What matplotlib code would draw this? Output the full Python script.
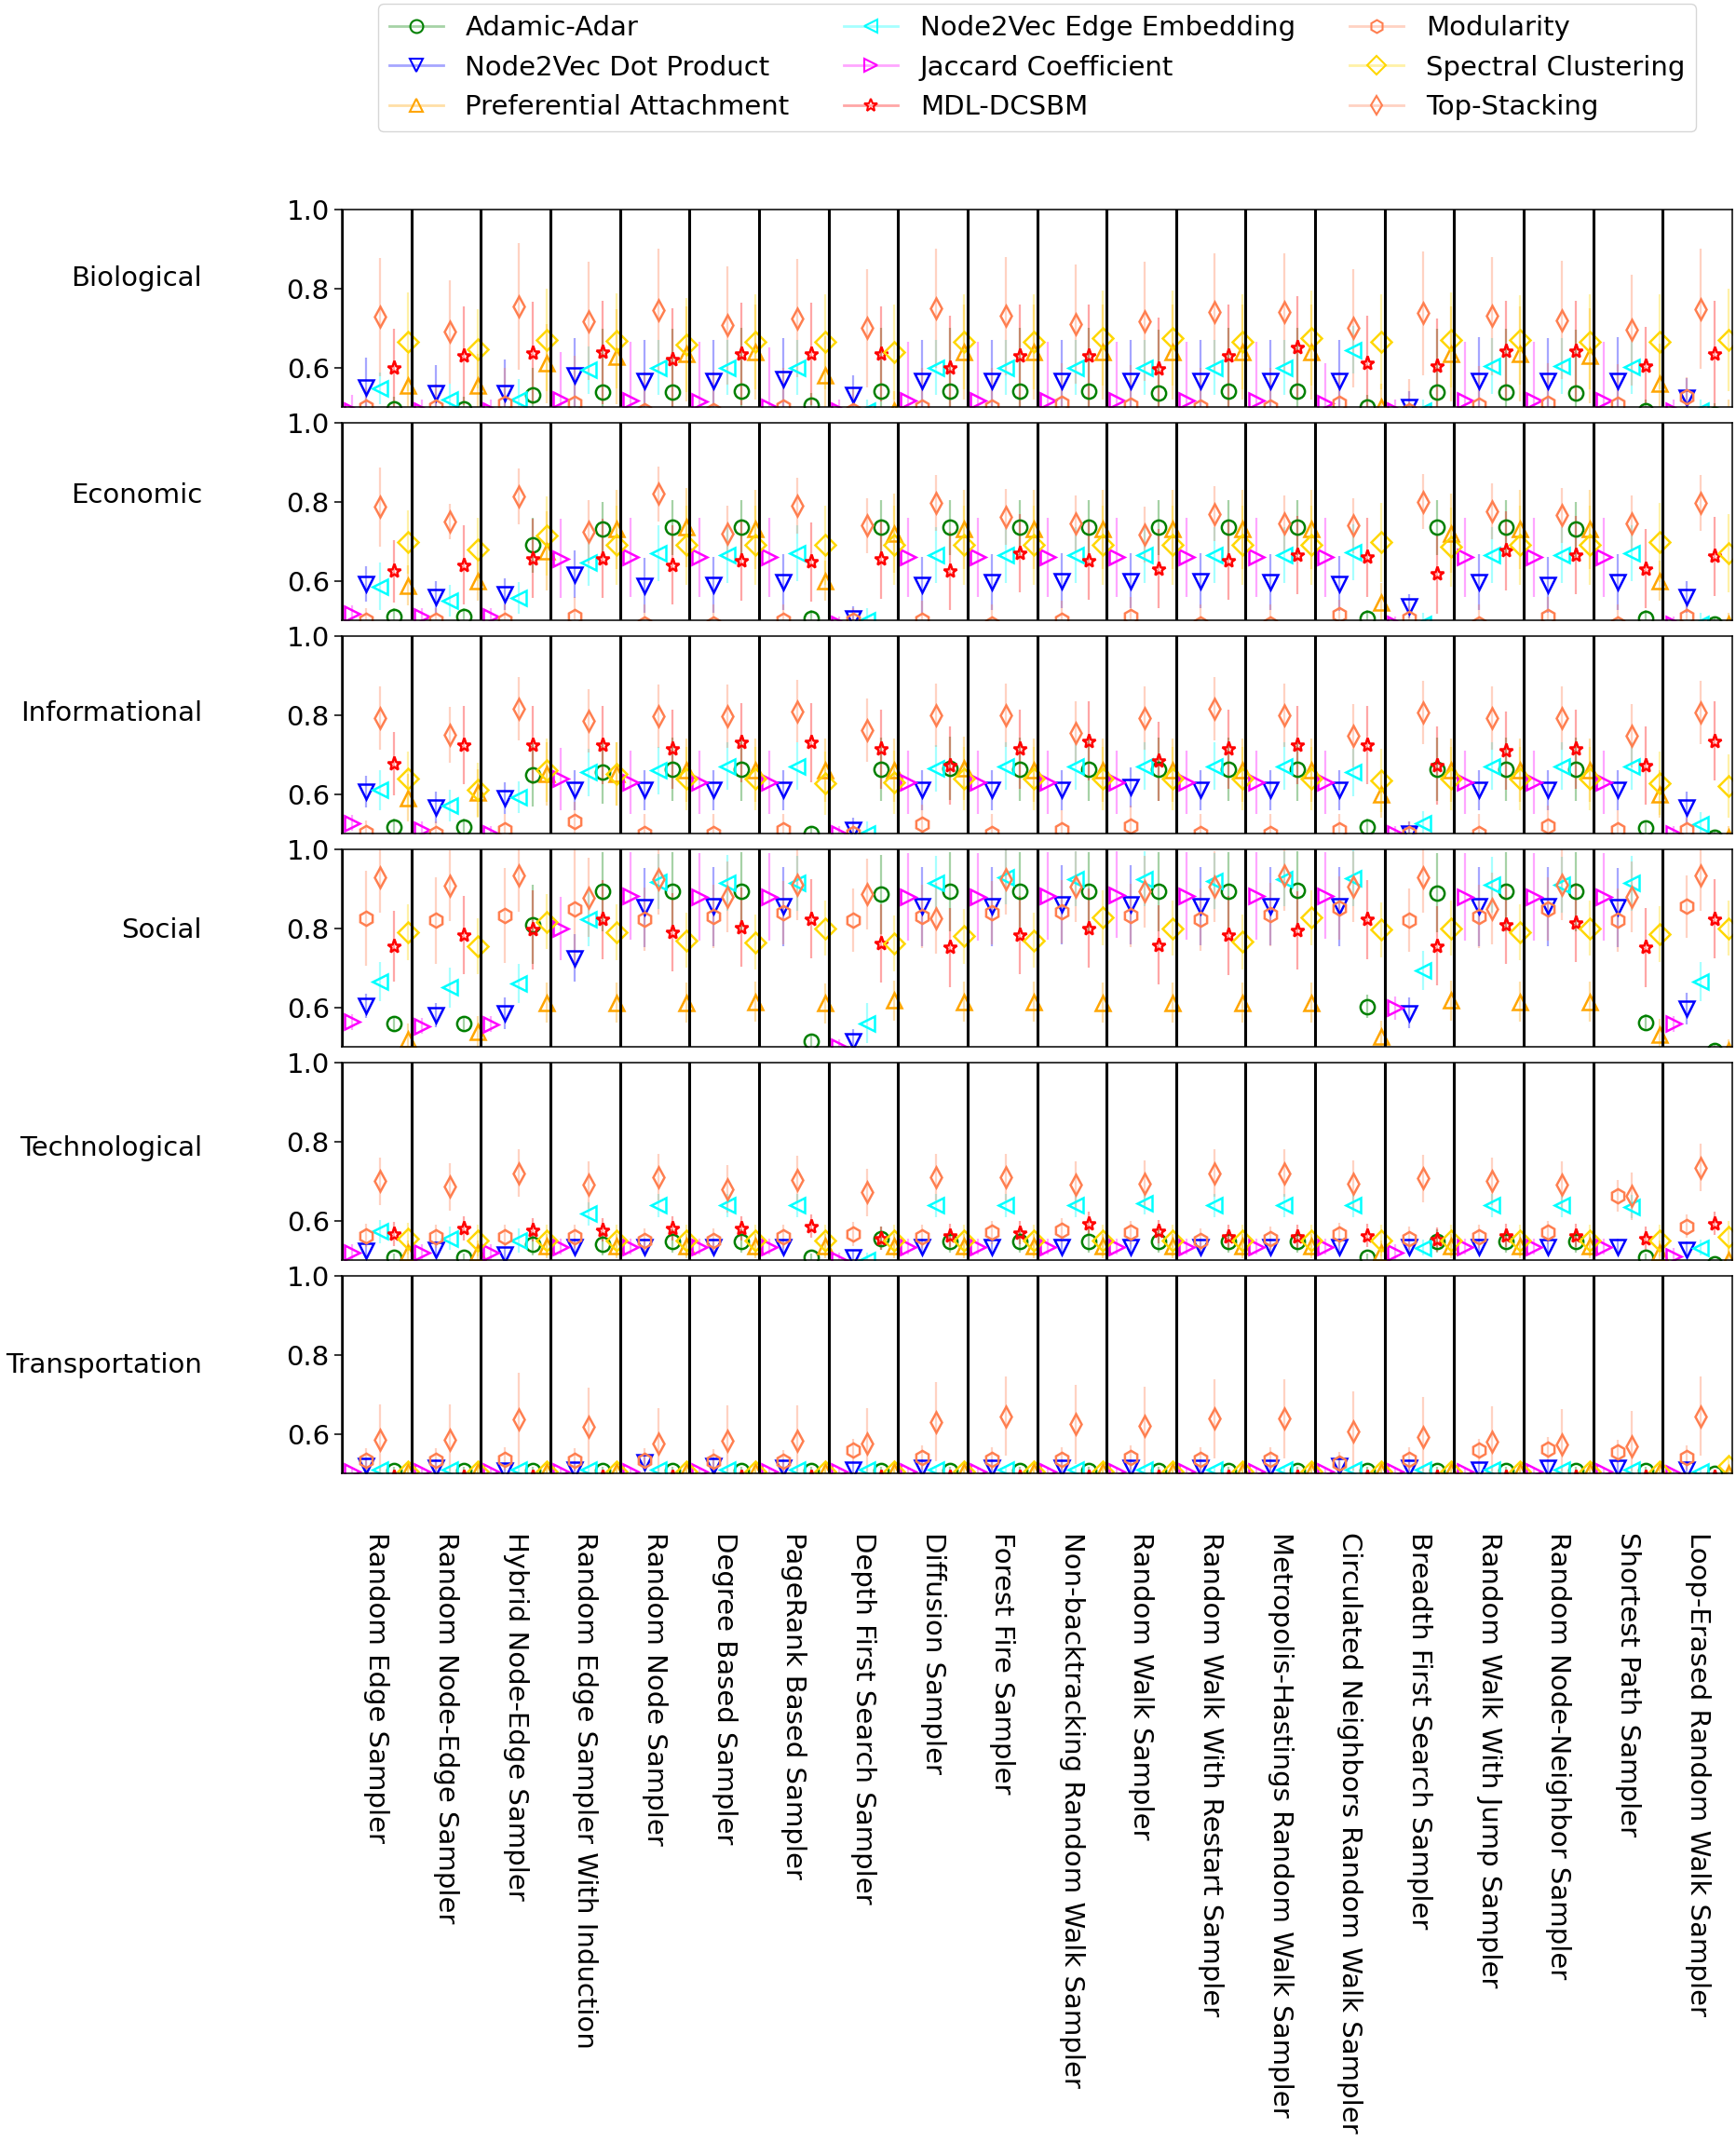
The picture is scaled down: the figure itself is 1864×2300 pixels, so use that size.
import numpy as np
import matplotlib.pyplot as plt
from matplotlib.lines import Line2D
from matplotlib.colors import to_rgba

samplers = ['Random Edge Sampler', 'Random Node-Edge Sampler', 'Hybrid Node-Edge Sampler',
            'Random Edge Sampler With Induction', 'Random Node Sampler', 'Degree Based Sampler',
            'PageRank Based Sampler', 'Depth First Search Sampler', 'Diffusion Sampler',
            'Forest Fire Sampler', 'Non-backtracking Random Walk Sampler', 'Random Walk Sampler',
            'Random Walk With Restart Sampler', 'Metropolis-Hastings Random Walk Sampler',
            'Circulated Neighbors Random Walk Sampler', 'Breadth First Search Sampler',
            'Random Walk With Jump Sampler', 'Random Node-Neighbor Sampler',
            'Shortest Path Sampler', 'Loop-Erased Random Walk Sampler']

domains = ['Biological', 'Economic', 'Informational', 'Social', 'Technological', 'Transportation']

methods = ['Adamic-Adar', 'Node2Vec Dot Product', 'Preferential Attachment',
           'Node2Vec Edge Embedding', 'Jaccard Coefficient', 'MDL-DCSBM',
           'Modularity', 'Spectral Clustering', 'Top-Stacking']
markers = ['o', 'v', '^', '<', '>', '*', 'h', 'D', 'd']
colors = ['green', 'blue', 'orange', 'cyan', 'magenta', 'red', 'coral', 'gold', 'coral']
offsets = [0.75, 0.35, 0.95, 0.55, 0.15, 0.75, 0.35, 0.95, 0.55]

# ---- mean AUC per sampler (20 values) ----
bio_mean = {
    'Adamic-Adar':             [0.495, 0.495, 0.53, 0.537, 0.538, 0.54, 0.505, 0.54, 0.54, 0.54, 0.54, 0.535, 0.54, 0.54, 0.50, 0.538, 0.538, 0.535, 0.49, 0.48],
    'Node2Vec Dot Product':    [0.55, 0.535, 0.535, 0.58, 0.565, 0.565, 0.57, 0.53, 0.565, 0.565, 0.565, 0.565, 0.565, 0.565, 0.565, 0.50, 0.567, 0.565, 0.567, 0.524],
    'Preferential Attachment': [0.555, 0.555, 0.61, 0.628, 0.634, 0.64, 0.58, 0.49, 0.64, 0.64, 0.64, 0.64, 0.64, 0.64, 0.50, 0.634, 0.634, 0.63, 0.56, 0.47],
    'Node2Vec Edge Embedding': [0.547, 0.52, 0.52, 0.594, 0.60, 0.60, 0.60, 0.49, 0.60, 0.60, 0.60, 0.60, 0.60, 0.60, 0.645, 0.49, 0.604, 0.604, 0.602, 0.49],
    'Jaccard Coefficient':     [0.49, 0.49, 0.49, 0.52, 0.516, 0.515, 0.50, 0.49, 0.516, 0.516, 0.516, 0.516, 0.516, 0.516, 0.51, 0.49, 0.516, 0.516, 0.516, 0.49],
    'MDL-DCSBM':               [0.598, 0.63, 0.636, 0.638, 0.62, 0.635, 0.635, 0.635, 0.60, 0.63, 0.63, 0.597, 0.63, 0.65, 0.61, 0.604, 0.642, 0.642, 0.604, 0.635],
    'Modularity':              [0.50, 0.50, 0.51, 0.51, 0.49, 0.49, 0.50, 0.49, 0.50, 0.50, 0.51, 0.505, 0.50, 0.50, 0.51, 0.49, 0.504, 0.51, 0.508, 0.525],
    'Spectral Clustering':     [0.665, 0.647, 0.67, 0.667, 0.657, 0.665, 0.665, 0.64, 0.665, 0.665, 0.675, 0.675, 0.665, 0.675, 0.665, 0.67, 0.67, 0.665, 0.665, 0.67],
    'Top-Stacking':            [0.728, 0.69, 0.754, 0.718, 0.746, 0.707, 0.725, 0.70, 0.75, 0.73, 0.71, 0.717, 0.74, 0.74, 0.70, 0.738, 0.73, 0.72, 0.695, 0.748],
}
econ_mean = {
    'Adamic-Adar':             [0.51, 0.51, 0.69, 0.73, 0.735, 0.735, 0.505, 0.735, 0.735, 0.735, 0.735, 0.735, 0.735, 0.735, 0.505, 0.735, 0.735, 0.73, 0.505, 0.49],
    'Node2Vec Dot Product':    [0.592, 0.56, 0.565, 0.616, 0.588, 0.59, 0.597, 0.505, 0.59, 0.597, 0.60, 0.60, 0.60, 0.597, 0.593, 0.535, 0.597, 0.59, 0.597, 0.56],
    'Preferential Attachment': [0.588, 0.60, 0.675, 0.73, 0.735, 0.73, 0.60, 0.72, 0.73, 0.73, 0.73, 0.73, 0.73, 0.73, 0.545, 0.72, 0.73, 0.73, 0.60, 0.49],
    'Node2Vec Edge Embedding': [0.586, 0.55, 0.557, 0.647, 0.67, 0.665, 0.67, 0.50, 0.665, 0.665, 0.665, 0.665, 0.665, 0.665, 0.672, 0.49, 0.665, 0.665, 0.67, 0.49],
    'Jaccard Coefficient':     [0.517, 0.51, 0.51, 0.656, 0.66, 0.66, 0.66, 0.49, 0.66, 0.66, 0.66, 0.66, 0.66, 0.66, 0.66, 0.49, 0.66, 0.66, 0.66, 0.49],
    'MDL-DCSBM':               [0.624, 0.64, 0.656, 0.656, 0.64, 0.65, 0.648, 0.655, 0.625, 0.67, 0.652, 0.63, 0.652, 0.665, 0.66, 0.617, 0.676, 0.665, 0.63, 0.662],
    'Modularity':              [0.50, 0.50, 0.50, 0.51, 0.49, 0.49, 0.50, 0.50, 0.50, 0.49, 0.50, 0.51, 0.49, 0.49, 0.513, 0.505, 0.49, 0.51, 0.49, 0.51],
    'Spectral Clustering':     [0.698, 0.68, 0.714, 0.69, 0.69, 0.69, 0.69, 0.69, 0.69, 0.69, 0.69, 0.69, 0.69, 0.69, 0.697, 0.686, 0.69, 0.69, 0.697, 0.67],
    'Top-Stacking':            [0.787, 0.75, 0.814, 0.725, 0.82, 0.72, 0.79, 0.74, 0.797, 0.762, 0.745, 0.717, 0.77, 0.745, 0.74, 0.80, 0.776, 0.766, 0.745, 0.797],
}
info_mean = {
    'Adamic-Adar':             [0.517, 0.517, 0.648, 0.655, 0.662, 0.662, 0.50, 0.662, 0.666, 0.662, 0.662, 0.662, 0.662, 0.662, 0.517, 0.662, 0.662, 0.662, 0.514, 0.49],
    'Node2Vec Dot Product':    [0.607, 0.566, 0.59, 0.61, 0.61, 0.61, 0.61, 0.51, 0.61, 0.61, 0.61, 0.617, 0.61, 0.61, 0.61, 0.50, 0.61, 0.61, 0.61, 0.566],
    'Preferential Attachment': [0.59, 0.603, 0.65, 0.65, 0.66, 0.66, 0.66, 0.66, 0.665, 0.66, 0.66, 0.66, 0.66, 0.66, 0.60, 0.66, 0.66, 0.66, 0.60, 0.49],
    'Node2Vec Edge Embedding': [0.61, 0.57, 0.593, 0.655, 0.66, 0.67, 0.67, 0.50, 0.665, 0.67, 0.67, 0.67, 0.67, 0.67, 0.655, 0.527, 0.67, 0.67, 0.67, 0.524],
    'Jaccard Coefficient':     [0.527, 0.51, 0.50, 0.638, 0.63, 0.63, 0.63, 0.50, 0.63, 0.63, 0.63, 0.63, 0.63, 0.63, 0.63, 0.50, 0.63, 0.63, 0.63, 0.50],
    'MDL-DCSBM':               [0.676, 0.724, 0.724, 0.724, 0.714, 0.73, 0.73, 0.714, 0.672, 0.714, 0.734, 0.683, 0.714, 0.724, 0.724, 0.672, 0.71, 0.714, 0.672, 0.734],
    'Modularity':              [0.503, 0.50, 0.51, 0.531, 0.50, 0.50, 0.51, 0.50, 0.524, 0.50, 0.51, 0.52, 0.50, 0.50, 0.51, 0.50, 0.50, 0.52, 0.51, 0.51],
    'Spectral Clustering':     [0.638, 0.61, 0.66, 0.65, 0.64, 0.64, 0.628, 0.63, 0.64, 0.64, 0.64, 0.64, 0.64, 0.64, 0.634, 0.64, 0.64, 0.64, 0.628, 0.62],
    'Top-Stacking':            [0.793, 0.75, 0.817, 0.786, 0.797, 0.797, 0.81, 0.762, 0.80, 0.80, 0.755, 0.793, 0.817, 0.80, 0.748, 0.807, 0.793, 0.793, 0.748, 0.807],
}
social_mean = {
    'Adamic-Adar':             [0.558, 0.559, 0.81, 0.893, 0.893, 0.893, 0.514, 0.886, 0.893, 0.893, 0.893, 0.893, 0.893, 0.896, 0.602, 0.89, 0.893, 0.893, 0.562, 0.49],
    'Node2Vec Dot Product':    [0.604, 0.58, 0.584, 0.725, 0.853, 0.855, 0.855, 0.514, 0.855, 0.855, 0.86, 0.86, 0.856, 0.856, 0.855, 0.586, 0.855, 0.855, 0.853, 0.597],
    'Preferential Attachment': [0.52, 0.537, 0.612, 0.612, 0.612, 0.614, 0.61, 0.617, 0.614, 0.614, 0.612, 0.612, 0.612, 0.612, 0.525, 0.617, 0.614, 0.614, 0.53, 0.49],
    'Node2Vec Edge Embedding': [0.665, 0.65, 0.66, 0.824, 0.918, 0.915, 0.914, 0.56, 0.914, 0.93, 0.925, 0.925, 0.92, 0.925, 0.927, 0.693, 0.91, 0.91, 0.914, 0.665],
    'Jaccard Coefficient':     [0.563, 0.553, 0.557, 0.80, 0.882, 0.88, 0.88, 0.50, 0.88, 0.88, 0.882, 0.885, 0.882, 0.882, 0.883, 0.598, 0.88, 0.88, 0.88, 0.558],
    'MDL-DCSBM':               [0.755, 0.783, 0.796, 0.822, 0.79, 0.803, 0.824, 0.762, 0.752, 0.783, 0.80, 0.758, 0.782, 0.795, 0.822, 0.755, 0.81, 0.814, 0.752, 0.824],
    'Modularity':              [0.825, 0.82, 0.833, 0.849, 0.824, 0.83, 0.84, 0.82, 0.83, 0.84, 0.842, 0.833, 0.822, 0.834, 0.851, 0.82, 0.83, 0.85, 0.82, 0.855],
    'Spectral Clustering':     [0.79, 0.755, 0.817, 0.79, 0.77, 0.765, 0.80, 0.762, 0.78, 0.77, 0.827, 0.80, 0.766, 0.827, 0.796, 0.80, 0.79, 0.80, 0.785, 0.80],
    'Top-Stacking':            [0.93, 0.908, 0.933, 0.878, 0.925, 0.88, 0.91, 0.886, 0.825, 0.924, 0.906, 0.893, 0.906, 0.935, 0.906, 0.93, 0.85, 0.91, 0.88, 0.934],
}
tech_mean = {
    'Adamic-Adar':             [0.507, 0.507, 0.541, 0.541, 0.548, 0.548, 0.507, 0.555, 0.548, 0.548, 0.548, 0.548, 0.548, 0.548, 0.507, 0.548, 0.548, 0.548, 0.507, 0.49],
    'Node2Vec Dot Product':    [0.524, 0.527, 0.514, 0.534, 0.534, 0.534, 0.534, 0.507, 0.534, 0.534, 0.534, 0.534, 0.534, 0.534, 0.534, 0.534, 0.534, 0.534, 0.534, 0.527],
    'Preferential Attachment': [0.52, 0.52, 0.535, 0.535, 0.535, 0.535, 0.535, 0.535, 0.535, 0.535, 0.535, 0.535, 0.535, 0.535, 0.52, 0.535, 0.535, 0.535, 0.52, 0.50],
    'Node2Vec Edge Embedding': [0.572, 0.555, 0.55, 0.617, 0.638, 0.638, 0.638, 0.50, 0.638, 0.638, 0.638, 0.645, 0.638, 0.638, 0.638, 0.531, 0.638, 0.638, 0.635, 0.531],
    'Jaccard Coefficient':     [0.52, 0.52, 0.52, 0.534, 0.534, 0.534, 0.534, 0.50, 0.534, 0.534, 0.534, 0.534, 0.534, 0.534, 0.534, 0.52, 0.534, 0.534, 0.534, 0.51],
    'MDL-DCSBM':               [0.566, 0.58, 0.576, 0.576, 0.58, 0.58, 0.586, 0.555, 0.562, 0.569, 0.593, 0.572, 0.559, 0.559, 0.562, 0.552, 0.562, 0.562, 0.555, 0.593],
    'Modularity':              [0.562, 0.56, 0.559, 0.56, 0.55, 0.55, 0.56, 0.566, 0.56, 0.57, 0.575, 0.57, 0.55, 0.555, 0.565, 0.555, 0.56, 0.57, 0.662, 0.586],
    'Spectral Clustering':     [0.555, 0.55, 0.55, 0.55, 0.55, 0.55, 0.55, 0.55, 0.55, 0.55, 0.55, 0.55, 0.55, 0.55, 0.55, 0.55, 0.55, 0.55, 0.55, 0.56],
    'Top-Stacking':            [0.70, 0.686, 0.72, 0.69, 0.71, 0.68, 0.704, 0.672, 0.71, 0.71, 0.69, 0.693, 0.72, 0.72, 0.693, 0.707, 0.70, 0.69, 0.662, 0.734],
}
trans_mean = {
    'Adamic-Adar':             [0.507, 0.507, 0.507, 0.507, 0.507, 0.507, 0.507, 0.507, 0.507, 0.507, 0.507, 0.507, 0.507, 0.507, 0.507, 0.507, 0.507, 0.507, 0.507, 0.50],
    'Node2Vec Dot Product':    [0.518, 0.515, 0.507, 0.51, 0.528, 0.52, 0.515, 0.51, 0.515, 0.515, 0.515, 0.515, 0.515, 0.515, 0.52, 0.515, 0.51, 0.515, 0.515, 0.51],
    'Preferential Attachment': [0.505, 0.505, 0.505, 0.505, 0.505, 0.505, 0.505, 0.505, 0.505, 0.505, 0.505, 0.505, 0.505, 0.505, 0.505, 0.505, 0.505, 0.505, 0.505, 0.50],
    'Node2Vec Edge Embedding': [0.51, 0.51, 0.51, 0.51, 0.51, 0.51, 0.51, 0.51, 0.51, 0.51, 0.51, 0.51, 0.51, 0.51, 0.51, 0.51, 0.51, 0.51, 0.51, 0.505],
    'Jaccard Coefficient':     [0.505, 0.505, 0.505, 0.505, 0.505, 0.505, 0.505, 0.505, 0.505, 0.505, 0.505, 0.505, 0.505, 0.505, 0.505, 0.505, 0.505, 0.505, 0.505, 0.50],
    'MDL-DCSBM':               [0.49, 0.49, 0.49, 0.49, 0.49, 0.49, 0.49, 0.49, 0.49, 0.49, 0.49, 0.49, 0.49, 0.49, 0.49, 0.49, 0.49, 0.49, 0.49, 0.49],
    'Modularity':              [0.534, 0.534, 0.536, 0.534, 0.534, 0.531, 0.53, 0.558, 0.54, 0.536, 0.535, 0.54, 0.535, 0.535, 0.525, 0.535, 0.558, 0.562, 0.555, 0.54],
    'Spectral Clustering':     [0.505, 0.505, 0.505, 0.505, 0.505, 0.505, 0.505, 0.505, 0.505, 0.505, 0.505, 0.505, 0.505, 0.505, 0.505, 0.505, 0.505, 0.505, 0.505, 0.52],
    'Top-Stacking':            [0.584, 0.584, 0.637, 0.617, 0.576, 0.582, 0.583, 0.576, 0.63, 0.645, 0.624, 0.62, 0.638, 0.638, 0.607, 0.593, 0.58, 0.572, 0.569, 0.645],
}

# ---- standard deviation (error bar half length) ----
bio_err = {
    'Adamic-Adar':             [0.03, 0.03, 0.07, 0.16, 0.16, 0.16, 0.03, 0.16, 0.16, 0.16, 0.16, 0.16, 0.16, 0.16, 0.03, 0.16, 0.16, 0.16, 0.03, 0.03],
    'Node2Vec Dot Product':    [0.075, 0.07, 0.085, 0.095, 0.105, 0.105, 0.105, 0.05, 0.105, 0.105, 0.105, 0.105, 0.105, 0.105, 0.105, 0.04, 0.11, 0.11, 0.11, 0.05],
    'Preferential Attachment': [0.08, 0.08, 0.1, 0.12, 0.12, 0.12, 0.1, 0.05, 0.12, 0.12, 0.12, 0.12, 0.12, 0.12, 0.06, 0.12, 0.12, 0.12, 0.1, 0.05],
    'Node2Vec Edge Embedding': [0.04, 0.04, 0.05, 0.06, 0.07, 0.07, 0.07, 0.03, 0.07, 0.07, 0.07, 0.07, 0.07, 0.07, 0.06, 0.03, 0.07, 0.07, 0.07, 0.03],
    'Jaccard Coefficient':     [0.04, 0.03, 0.03, 0.12, 0.15, 0.15, 0.15, 0.03, 0.15, 0.15, 0.15, 0.15, 0.15, 0.15, 0.10, 0.03, 0.15, 0.15, 0.15, 0.03],
    'MDL-DCSBM':               [0.10, 0.125, 0.13, 0.13, 0.13, 0.13, 0.13, 0.12, 0.13, 0.13, 0.13, 0.13, 0.13, 0.13, 0.12, 0.12, 0.126, 0.126, 0.10, 0.135],
    'Modularity':              [0.05, 0.06, 0.09, 0.12, 0.10, 0.10, 0.10, 0.06, 0.10, 0.10, 0.10, 0.10, 0.10, 0.10, 0.08, 0.08, 0.10, 0.10, 0.10, 0.05],
    'Spectral Clustering':     [0.125, 0.10, 0.13, 0.12, 0.12, 0.12, 0.12, 0.12, 0.12, 0.12, 0.12, 0.12, 0.12, 0.12, 0.12, 0.12, 0.114, 0.12, 0.12, 0.13],
    'Top-Stacking':            [0.15, 0.13, 0.16, 0.15, 0.155, 0.15, 0.15, 0.15, 0.15, 0.15, 0.15, 0.15, 0.15, 0.15, 0.15, 0.157, 0.15, 0.15, 0.14, 0.152],
}
econ_err = {
    'Adamic-Adar':             [0.02, 0.02, 0.07, 0.07, 0.07, 0.07, 0.02, 0.07, 0.07, 0.07, 0.07, 0.07, 0.07, 0.07, 0.02, 0.07, 0.07, 0.07, 0.02, 0.02],
    'Node2Vec Dot Product':    [0.045, 0.04, 0.04, 0.06, 0.07, 0.07, 0.07, 0.03, 0.07, 0.07, 0.07, 0.07, 0.07, 0.07, 0.07, 0.03, 0.07, 0.07, 0.07, 0.04],
    'Preferential Attachment': [0.05, 0.05, 0.10, 0.10, 0.10, 0.10, 0.05, 0.10, 0.10, 0.10, 0.10, 0.10, 0.10, 0.10, 0.05, 0.10, 0.10, 0.10, 0.05, 0.03],
    'Node2Vec Edge Embedding': [0.06, 0.04, 0.04, 0.06, 0.07, 0.07, 0.07, 0.03, 0.07, 0.07, 0.07, 0.07, 0.07, 0.07, 0.07, 0.03, 0.07, 0.07, 0.07, 0.03],
    'Jaccard Coefficient':     [0.02, 0.02, 0.02, 0.10, 0.10, 0.10, 0.10, 0.02, 0.10, 0.10, 0.10, 0.10, 0.10, 0.10, 0.10, 0.02, 0.10, 0.10, 0.10, 0.02],
    'MDL-DCSBM':               [0.08, 0.10, 0.10, 0.10, 0.10, 0.10, 0.10, 0.10, 0.10, 0.10, 0.10, 0.10, 0.10, 0.10, 0.10, 0.10, 0.10, 0.10, 0.10, 0.10],
    'Modularity':              [0.03, 0.03, 0.04, 0.05, 0.05, 0.05, 0.04, 0.03, 0.05, 0.05, 0.05, 0.05, 0.05, 0.05, 0.04, 0.03, 0.05, 0.05, 0.05, 0.03],
    'Spectral Clustering':     [0.08, 0.08, 0.10, 0.10, 0.10, 0.10, 0.10, 0.10, 0.10, 0.10, 0.10, 0.10, 0.10, 0.10, 0.10, 0.10, 0.10, 0.10, 0.10, 0.10],
    'Top-Stacking':            [0.10, 0.045, 0.07, 0.08, 0.07, 0.07, 0.07, 0.07, 0.07, 0.07, 0.07, 0.07, 0.07, 0.07, 0.07, 0.07, 0.07, 0.07, 0.07, 0.07],
}
info_err = {
    'Adamic-Adar':             [0.02, 0.02, 0.08, 0.08, 0.08, 0.08, 0.02, 0.08, 0.08, 0.08, 0.08, 0.08, 0.08, 0.08, 0.02, 0.08, 0.08, 0.08, 0.02, 0.02],
    'Node2Vec Dot Product':    [0.04, 0.04, 0.04, 0.05, 0.05, 0.05, 0.05, 0.03, 0.05, 0.05, 0.05, 0.05, 0.05, 0.05, 0.05, 0.03, 0.05, 0.05, 0.05, 0.04],
    'Preferential Attachment': [0.06, 0.06, 0.08, 0.08, 0.08, 0.08, 0.08, 0.08, 0.08, 0.08, 0.08, 0.08, 0.08, 0.08, 0.06, 0.08, 0.08, 0.08, 0.06, 0.03],
    'Node2Vec Edge Embedding': [0.05, 0.04, 0.04, 0.06, 0.06, 0.06, 0.06, 0.03, 0.06, 0.06, 0.06, 0.06, 0.06, 0.06, 0.06, 0.03, 0.06, 0.06, 0.06, 0.03],
    'Jaccard Coefficient':     [0.02, 0.02, 0.02, 0.08, 0.08, 0.08, 0.08, 0.02, 0.08, 0.08, 0.08, 0.08, 0.08, 0.08, 0.08, 0.02, 0.08, 0.08, 0.08, 0.02],
    'MDL-DCSBM':               [0.08, 0.10, 0.10, 0.10, 0.10, 0.10, 0.10, 0.10, 0.10, 0.10, 0.10, 0.10, 0.10, 0.10, 0.10, 0.10, 0.10, 0.10, 0.10, 0.10],
    'Modularity':              [0.03, 0.03, 0.04, 0.05, 0.05, 0.05, 0.04, 0.03, 0.05, 0.05, 0.05, 0.05, 0.05, 0.05, 0.04, 0.03, 0.05, 0.05, 0.05, 0.03],
    'Spectral Clustering':     [0.07, 0.07, 0.08, 0.08, 0.08, 0.08, 0.08, 0.08, 0.08, 0.08, 0.08, 0.08, 0.08, 0.08, 0.08, 0.08, 0.08, 0.08, 0.08, 0.08],
    'Top-Stacking':            [0.08, 0.07, 0.08, 0.08, 0.08, 0.08, 0.08, 0.08, 0.08, 0.08, 0.08, 0.08, 0.08, 0.08, 0.08, 0.08, 0.08, 0.08, 0.08, 0.08],
}
social_err = {
    'Adamic-Adar':             [0.02, 0.02, 0.10, 0.10, 0.10, 0.10, 0.02, 0.10, 0.10, 0.10, 0.10, 0.10, 0.10, 0.10, 0.03, 0.10, 0.10, 0.10, 0.02, 0.02],
    'Node2Vec Dot Product':    [0.03, 0.03, 0.04, 0.06, 0.10, 0.10, 0.10, 0.03, 0.10, 0.10, 0.10, 0.10, 0.10, 0.10, 0.10, 0.04, 0.10, 0.10, 0.10, 0.04],
    'Preferential Attachment': [0.04, 0.04, 0.05, 0.05, 0.05, 0.05, 0.05, 0.05, 0.05, 0.05, 0.05, 0.05, 0.05, 0.05, 0.04, 0.05, 0.05, 0.05, 0.04, 0.03],
    'Node2Vec Edge Embedding': [0.05, 0.05, 0.05, 0.07, 0.07, 0.07, 0.07, 0.05, 0.07, 0.07, 0.07, 0.07, 0.07, 0.07, 0.07, 0.05, 0.07, 0.07, 0.07, 0.05],
    'Jaccard Coefficient':     [0.02, 0.02, 0.02, 0.08, 0.11, 0.11, 0.11, 0.02, 0.11, 0.11, 0.11, 0.11, 0.11, 0.11, 0.11, 0.03, 0.11, 0.11, 0.11, 0.02],
    'MDL-DCSBM':               [0.09, 0.10, 0.10, 0.10, 0.10, 0.10, 0.10, 0.10, 0.10, 0.10, 0.10, 0.10, 0.10, 0.10, 0.10, 0.10, 0.10, 0.10, 0.10, 0.10],
    'Modularity':              [0.12, 0.11, 0.12, 0.15, 0.08, 0.08, 0.08, 0.08, 0.08, 0.08, 0.08, 0.08, 0.08, 0.08, 0.08, 0.08, 0.08, 0.08, 0.08, 0.08],
    'Spectral Clustering':     [0.07, 0.07, 0.07, 0.07, 0.07, 0.07, 0.07, 0.07, 0.07, 0.07, 0.07, 0.07, 0.07, 0.07, 0.07, 0.07, 0.07, 0.07, 0.07, 0.07],
    'Top-Stacking':            [0.09, 0.09, 0.09, 0.10, 0.09, 0.09, 0.09, 0.09, 0.09, 0.09, 0.09, 0.09, 0.09, 0.09, 0.09, 0.09, 0.09, 0.09, 0.09, 0.09],
}
tech_err = {
    'Adamic-Adar':             [0.01, 0.01, 0.03, 0.03, 0.03, 0.03, 0.01, 0.03, 0.03, 0.03, 0.03, 0.03, 0.03, 0.03, 0.01, 0.03, 0.03, 0.03, 0.01, 0.01],
    'Node2Vec Dot Product':    [0.02, 0.02, 0.02, 0.02, 0.02, 0.02, 0.02, 0.02, 0.02, 0.02, 0.02, 0.02, 0.02, 0.02, 0.02, 0.02, 0.02, 0.02, 0.02, 0.02],
    'Preferential Attachment': [0.03, 0.03, 0.03, 0.03, 0.03, 0.03, 0.03, 0.03, 0.03, 0.03, 0.03, 0.03, 0.03, 0.03, 0.03, 0.03, 0.03, 0.03, 0.03, 0.03],
    'Node2Vec Edge Embedding': [0.03, 0.03, 0.03, 0.03, 0.03, 0.03, 0.03, 0.02, 0.03, 0.03, 0.03, 0.03, 0.03, 0.03, 0.03, 0.02, 0.03, 0.03, 0.03, 0.02],
    'Jaccard Coefficient':     [0.02, 0.02, 0.02, 0.02, 0.02, 0.02, 0.02, 0.02, 0.02, 0.02, 0.02, 0.02, 0.02, 0.02, 0.02, 0.02, 0.02, 0.02, 0.02, 0.02],
    'MDL-DCSBM':               [0.03, 0.03, 0.03, 0.03, 0.03, 0.03, 0.03, 0.03, 0.03, 0.03, 0.03, 0.03, 0.03, 0.03, 0.03, 0.03, 0.03, 0.03, 0.03, 0.03],
    'Modularity':              [0.03, 0.03, 0.03, 0.03, 0.03, 0.03, 0.03, 0.03, 0.03, 0.03, 0.03, 0.03, 0.03, 0.03, 0.03, 0.03, 0.03, 0.03, 0.04, 0.03],
    'Spectral Clustering':     [0.04, 0.04, 0.04, 0.04, 0.04, 0.04, 0.04, 0.04, 0.04, 0.04, 0.04, 0.04, 0.04, 0.04, 0.04, 0.04, 0.04, 0.04, 0.04, 0.04],
    'Top-Stacking':            [0.06, 0.06, 0.06, 0.06, 0.06, 0.06, 0.06, 0.06, 0.06, 0.06, 0.06, 0.06, 0.06, 0.06, 0.06, 0.06, 0.06, 0.06, 0.06, 0.06],
}
trans_err = {
    'Adamic-Adar':             [0.01, 0.01, 0.01, 0.01, 0.01, 0.01, 0.01, 0.01, 0.01, 0.01, 0.01, 0.01, 0.01, 0.01, 0.01, 0.01, 0.01, 0.01, 0.01, 0.01],
    'Node2Vec Dot Product':    [0.02, 0.02, 0.02, 0.02, 0.02, 0.02, 0.02, 0.02, 0.02, 0.02, 0.02, 0.02, 0.02, 0.02, 0.02, 0.02, 0.02, 0.02, 0.02, 0.02],
    'Preferential Attachment': [0.01, 0.01, 0.01, 0.01, 0.01, 0.01, 0.01, 0.01, 0.01, 0.01, 0.01, 0.01, 0.01, 0.01, 0.01, 0.01, 0.01, 0.01, 0.01, 0.01],
    'Node2Vec Edge Embedding': [0.01, 0.01, 0.01, 0.01, 0.01, 0.01, 0.01, 0.01, 0.01, 0.01, 0.01, 0.01, 0.01, 0.01, 0.01, 0.01, 0.01, 0.01, 0.01, 0.01],
    'Jaccard Coefficient':     [0.01, 0.01, 0.01, 0.01, 0.01, 0.01, 0.01, 0.01, 0.01, 0.01, 0.01, 0.01, 0.01, 0.01, 0.01, 0.01, 0.01, 0.01, 0.01, 0.01],
    'MDL-DCSBM':               [0.01, 0.01, 0.01, 0.01, 0.01, 0.01, 0.01, 0.01, 0.01, 0.01, 0.01, 0.01, 0.01, 0.01, 0.01, 0.01, 0.01, 0.01, 0.01, 0.01],
    'Modularity':              [0.03, 0.03, 0.03, 0.03, 0.03, 0.03, 0.03, 0.03, 0.03, 0.03, 0.03, 0.03, 0.03, 0.03, 0.03, 0.03, 0.03, 0.03, 0.03, 0.03],
    'Spectral Clustering':     [0.01, 0.01, 0.01, 0.01, 0.01, 0.01, 0.01, 0.01, 0.01, 0.01, 0.01, 0.01, 0.01, 0.01, 0.01, 0.01, 0.01, 0.01, 0.01, 0.02],
    'Top-Stacking':            [0.09, 0.09, 0.118, 0.10, 0.09, 0.09, 0.09, 0.09, 0.10, 0.10, 0.10, 0.10, 0.10, 0.10, 0.10, 0.10, 0.09, 0.09, 0.09, 0.10],
}

means = [bio_mean, econ_mean, info_mean, social_mean, tech_mean, trans_mean]
errs = [bio_err, econ_err, info_err, social_err, tech_err, trans_err]

FS = 21
W, H = 1864, 2300
fig = plt.figure(figsize=(W / 100, H / 100), dpi=100)
ax_left, ax_right = 367, 1860
row_top, row_pitch, row_h = 225, 229, 212
x = np.arange(len(samplers))

for r, dom in enumerate(domains):
    top = row_top + row_pitch * r
    ax = fig.add_axes([ax_left / W, 1 - (top + row_h) / H, (ax_right - ax_left) / W, row_h / H])
    for k, m in enumerate(methods):
        xs = x + offsets[k]
        ax.errorbar(xs, means[r][m], yerr=errs[r][m], fmt='none', ecolor=colors[k],
                    alpha=0.35, elinewidth=1.6, capsize=0)
    for k, m in enumerate(methods):
        xs = x + offsets[k]
        ax.plot(xs, means[r][m], ls='none', marker=markers[k], mfc='none', mec=colors[k],
                ms=11, mew=1.8)
    for j in range(len(samplers)):
        ax.axvline(j, color='black', lw=2.2)
    ax.set_xlim(0, len(samplers))
    ax.set_ylim(0.5, 1.0)
    ax.set_yticks([0.6, 0.8, 1.0])
    ax.set_xticks([])
    ax.tick_params(axis='y', labelsize=FS, length=6, width=1.1)
    for s in ax.spines.values():
        s.set_linewidth(1.1)
    fig.text(217 / W, 1 - (299 + 233.4 * r) / H, dom, ha='right', va='center', fontsize=FS)

col_w = (ax_right - ax_left) / len(samplers)
for j, name in enumerate(samplers):
    fig.text((ax_left + col_w * (j + 0.5)) / W, 1 - 1645 / H, name, rotation=270,
             ha='center', va='top', fontsize=FS)

handles = [Line2D([], [], color=to_rgba(colors[k], 0.35), lw=2, marker=markers[k],
                  mfc='none', mec=colors[k], ms=10, mew=1.5) for k in range(len(methods))]
fig.legend(handles, methods, loc='upper center', bbox_to_anchor=((ax_left + ax_right) / 2 / W, 1.0),
           borderaxespad=0.15, ncol=3, fontsize=FS)

fig.savefig('out.png', dpi=100)
